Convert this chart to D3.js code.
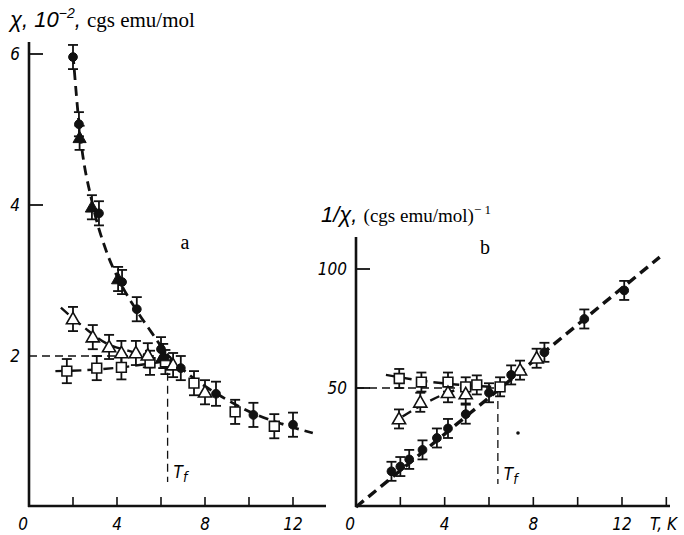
<!DOCTYPE html>
<html lang="en">
<head>
<meta charset="UTF-8">
<title>chi vs T</title>
<script src="https://cdn.jsdelivr.net/npm/d3@7"></script>
<style>
  body { margin: 0; background: #fff; }
  svg { position: absolute; left: 0; top: 0; }
  .num { font-family: "Liberation Sans Narrow", "DejaVu Sans Condensed", sans-serif; font-style: italic; font-size: 17px; }
  .lbl { font-family: "Liberation Serif", serif; font-size: 20px; }
</style>
</head>
<body>
<svg id="chart" width="684" height="535"></svg>
<script>
// ---- panel a : chi (10^-2 cgs emu/mol) vs T (K)
var aCircles   = [[2.0,5.96],[2.27,5.07],[3.18,3.89],[4.23,2.98],[4.9,2.62],[6.0,2.09],[6.9,1.84],[8.5,1.50],[10.2,1.22],[12.0,1.09]]
var aTriFilled = [[2.3,4.89],[2.86,3.97],[4.05,3.02],[6.1,2.0]]
var aTriOpen   = [[2.0,2.49],[2.9,2.25],[3.64,2.12],[4.2,2.04],[4.86,2.04],[5.4,2.01],[6.55,1.88],[8.0,1.52]]
var aSquares   = [[1.72,1.80],[3.08,1.84],[4.2,1.85],[5.5,1.91],[6.2,1.92],[7.5,1.64],[9.37,1.26],[11.15,1.07]]
var aCurveMain = [[2.0,6.0],[2.3,5.0],[2.9,4.0],[3.5,3.4],[4.1,3.0],[4.9,2.6],[5.6,2.3],[6.2,2.05],[7,1.82],[8,1.6],[9,1.42],[10.2,1.24],[11.5,1.1],[12.9,0.98]]
var aCurveTri  = [[1.45,2.64],[2.5,2.38],[3.5,2.17],[4.5,2.07],[5.5,2.0],[6.3,1.95]]
var aCurveSq   = [[1.2,1.8],[3,1.82],[4.5,1.86],[5.5,1.9],[6.3,1.93]]
var aXTicks = [2,4,6,8,10,12]
var aXLabels = [0,4,8,12]
var aYTicks = [4,6]
var aYLabels = [2,4,6]
var aErr = 0.16

// ---- panel b : 1/chi (cgs emu/mol)^-1 vs T (K)
var bCircles   = [[1.6,15],[2.0,17],[2.4,20],[3.0,24],[3.65,29],[4.15,33],[4.95,39],[6.0,48],[7.0,55.5],[8.5,65],[10.3,79],[12.1,91]]
var bTriOpen   = [[1.94,37],[2.9,44],[4.15,48],[4.95,47.5],[7.4,57.5],[8.15,62.5]]
var bSquares   = [[1.95,54],[2.95,52.5],[4.15,52.5],[4.95,50.5],[5.45,51.3],[6.5,50.5]]
var bLineMain  = [[0,0],[13.7,105]]
var bCurveSq   = [[1.35,55.5],[3,53],[4.5,51.5],[6.5,50.3]]
var bCurveTri  = [[2.1,38],[3,43],[4,47.5],[4.8,50]]
var bXTicks = [2,4,6,8,10,12,14]
var bXLabels = [0,4,8,12]
var bYTicks = [50,100]
var bErr = 4

var Tf_a = 6.3, Tf_b = 6.4

var svg = d3.select('#chart')

var xa = d3.scaleLinear().domain([0, 12]).range([29, 293])
var ya = d3.scaleLinear().domain([0, 6]).range([507, 54])
var xb = d3.scaleLinear().domain([0, 12]).range([356, 622])
var yb = d3.scaleLinear().domain([0, 100]).range([507, 269])

function dashLine(g, pts, x, y, w, curve) {
    var line = d3.line().x(function(d){ return x(d[0]) }).y(function(d){ return y(d[1]) }).curve(curve || d3.curveMonotoneX)
    g.append('path').attr('d', line(pts)).attr('fill', 'none')
        .attr('stroke', '#111').attr('stroke-width', w || 2.6).attr('stroke-dasharray', '10 6')
}

function errBars(g, pts, x, y, e) {
    pts.forEach(function(d){
        var cx = x(d[0]), y1 = y(d[1] + e), y2 = y(d[1] - e)
        g.append('line').attr('x1', cx).attr('x2', cx).attr('y1', y1).attr('y2', y2).attr('stroke', '#111').attr('stroke-width', 1.8)
        g.append('line').attr('x1', cx - 5).attr('x2', cx + 5).attr('y1', y1).attr('y2', y1).attr('stroke', '#111').attr('stroke-width', 1.8)
        g.append('line').attr('x1', cx - 5).attr('x2', cx + 5).attr('y1', y2).attr('y2', y2).attr('stroke', '#111').attr('stroke-width', 1.8)
    })
}

function markers(g, pts, x, y, kind) {
    var sym = { circle: d3.symbolCircle, tri: d3.symbolTriangle, square: d3.symbolSquare }
    var size = { circle: 60, tri: 75, square: 95 }
    var open = kind === 'triOpen' || kind === 'square'
    var k = kind === 'triOpen' || kind === 'triFilled' ? 'tri' : kind
    g.selectAll(null).data(pts).enter().append('path')
        .attr('d', d3.symbol().type(sym[k]).size(size[k]))
        .attr('transform', function(d){ return 'translate(' + x(d[0]) + ',' + (y(d[1]) + (k === 'tri' ? 1 : 0)) + ')' })
        .attr('fill', open ? '#fff' : '#111')
        .attr('stroke', '#111').attr('stroke-width', open ? 1.6 : 1)
}

function axes(g, x, y, xmax, ytop, xTicks, xLabels) {
    g.append('line').attr('x1', x(0)).attr('x2', x(0)).attr('y1', ytop).attr('y2', 507).attr('stroke', '#111').attr('stroke-width', 2.6)
    g.append('line').attr('x1', x(0) - 1).attr('x2', xmax).attr('y1', 506).attr('y2', 506).attr('stroke', '#111').attr('stroke-width', 2.6)
    xTicks.forEach(function(t){
        g.append('line').attr('x1', x(t)).attr('x2', x(t)).attr('y1', 506).attr('y2', 497).attr('stroke', '#111').attr('stroke-width', 1.6)
    })
    xLabels.forEach(function(t){
        g.append('text').attr('class', 'num').attr('x', x(t) - (t === 0 ? 6 : 0)).attr('y', 530)
            .attr('text-anchor', 'middle').text(t)
    })
}

// ---------- panel a
var ga = svg.append('g')
axes(ga, xa, ya, 326, 42, aXTicks, aXLabels)
aYTicks.forEach(function(v){
    ga.append('line').attr('x1', xa(0)).attr('x2', xa(0) + 14).attr('y1', ya(v)).attr('y2', ya(v)).attr('stroke', '#111').attr('stroke-width', 1.8)
})
aYLabels.forEach(function(v){
    ga.append('text').attr('class', 'num').attr('x', 15).attr('y', ya(v) + 6).attr('text-anchor', 'middle').text(v)
})
// T_f guides
var guide = d3.line().x(function(d){ return xa(d[0]) }).y(function(d){ return ya(d[1]) })
ga.append('path').attr('d', guide([[0, 2], [Tf_a, 2]])).attr('stroke', '#111').attr('stroke-width', 1.3).attr('stroke-dasharray', '8 5').attr('fill', 'none')
ga.append('line').attr('x1', xa(Tf_a)).attr('x2', xa(Tf_a)).attr('y1', ya(1.95)).attr('y2', 482).attr('stroke', '#111').attr('stroke-width', 1.3).attr('stroke-dasharray', '8 5')

dashLine(ga, aCurveMain, xa, ya, 2.8)
dashLine(ga, aCurveTri, xa, ya, 2.4)
dashLine(ga, aCurveSq, xa, ya, 2.4)
errBars(ga, aSquares.concat(aTriOpen, aTriFilled, aCircles), xa, ya, aErr)
markers(ga, aSquares, xa, ya, 'square')
markers(ga, aTriOpen, xa, ya, 'triOpen')
markers(ga, aTriFilled, xa, ya, 'triFilled')
markers(ga, aCircles, xa, ya, 'circle')

ga.append('text').attr('x', xa(Tf_a) + 6).attr('y', 478).attr('class', 'num').attr('font-size', 18).text('T')
    .append('tspan').attr('dy', 4).attr('font-size', 14).text('f')
ga.append('text').attr('class', 'lbl').attr('x', 185).attr('y', 249).attr('text-anchor', 'middle').text('a')

var ta = ga.append('text').attr('x', 10).attr('y', 27).attr('class', 'lbl')
ta.append('tspan').attr('font-family', 'Liberation Sans Narrow, sans-serif').attr('font-style', 'italic').attr('font-size', 22).text('χ, 10')
ta.append('tspan').attr('font-family', 'Liberation Sans Narrow, sans-serif').attr('font-style', 'italic').attr('font-size', 14).attr('dy', -9).text('−2')
ta.append('tspan').attr('font-family', 'Liberation Sans Narrow, sans-serif').attr('font-style', 'italic').attr('font-size', 22).attr('dy', 9).text(', ')
ta.append('tspan').attr('font-size', 21).text('cgs emu/mol')

// ---------- panel b
var gb = svg.append('g')
axes(gb, xb, yb, 670, 237, bXTicks, bXLabels)
bYTicks.forEach(function(v){
    gb.append('line').attr('x1', xb(0)).attr('x2', xb(0) + 14).attr('y1', yb(v)).attr('y2', yb(v)).attr('stroke', '#111').attr('stroke-width', 1.8)
    gb.append('text').attr('class', 'num').attr('x', 347).attr('y', yb(v) + 6).attr('text-anchor', 'end').text(v)
})
var guideB = d3.line().x(function(d){ return xb(d[0]) }).y(function(d){ return yb(d[1]) })
gb.append('path').attr('d', guideB([[0, 50], [Tf_b, 50]])).attr('stroke', '#111').attr('stroke-width', 1.3).attr('stroke-dasharray', '8 5').attr('fill', 'none')
gb.append('line').attr('x1', xb(Tf_b)).attr('x2', xb(Tf_b)).attr('y1', yb(50)).attr('y2', 484).attr('stroke', '#111').attr('stroke-width', 1.3).attr('stroke-dasharray', '8 5')

dashLine(gb, bLineMain, xb, yb, 3.4, d3.curveLinear)
dashLine(gb, bCurveSq, xb, yb, 2.4)
dashLine(gb, bCurveTri, xb, yb, 2.4)
errBars(gb, bSquares.concat(bTriOpen, bCircles), xb, yb, bErr)
markers(gb, bSquares, xb, yb, 'square')
markers(gb, bTriOpen, xb, yb, 'triOpen')
markers(gb, bCircles, xb, yb, 'circle')
gb.append('circle').attr('cx', 518).attr('cy', 433).attr('r', 1.8).attr('fill', '#111')

gb.append('text').attr('x', xb(Tf_b) + 6).attr('y', 480).attr('class', 'num').attr('font-size', 18).text('T')
    .append('tspan').attr('dy', 4).attr('font-size', 14).text('f')
gb.append('text').attr('class', 'lbl').attr('x', 485).attr('y', 254).attr('text-anchor', 'middle').text('b')
gb.append('text').attr('class', 'num').attr('x', 650).attr('y', 530).text('T, K')

var tb = gb.append('text').attr('x', 321).attr('y', 222).attr('class', 'lbl')
tb.append('tspan').attr('font-family', 'Liberation Sans Narrow, sans-serif').attr('font-style', 'italic').attr('font-size', 22).text('1/χ, ')
tb.append('tspan').attr('font-size', 19).text('(cgs emu/mol)')
tb.append('tspan').attr('font-size', 13).attr('dy', -8).text('− 1')
</script>
</body>
</html>
